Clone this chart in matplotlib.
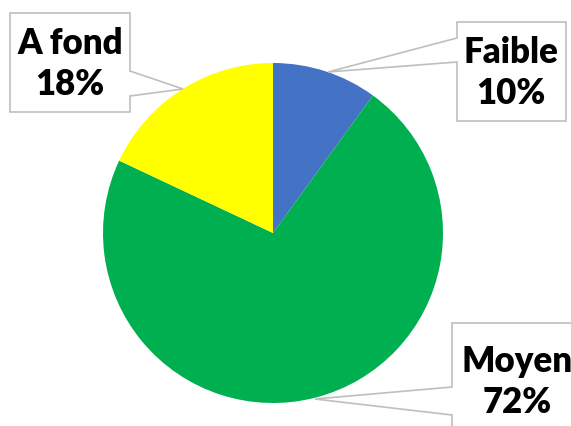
import matplotlib.pyplot as plt
from matplotlib.patches import Polygon

labels = ['Faible', 'Moyen', 'A fond']
values = [10, 72, 18]
colors = ['#4472C4', '#00B050', '#FFFF00']

W, H = 571, 426
fig = plt.figure(figsize=(W / 100, H / 100), dpi=100)
ax = fig.add_axes([0, 0, 1, 1])
ax.set_xlim(0, W)
ax.set_ylim(0, H)
ax.set_aspect('equal')
ax.axis('off')

# pie centre / radius in pixel space (y measured from bottom)
ax.pie(values, colors=colors, startangle=90, counterclock=False,
       center=(273, H - 233), radius=170, wedgeprops=dict(linewidth=0))
ax.set_xlim(0, W)
ax.set_ylim(0, H)


def callout(pts, text, tx, ty):
    pts = [(x, H - y) for x, y in pts]
    ax.add_patch(Polygon(pts, closed=True, facecolor='white',
                         edgecolor='#BFBFBF', linewidth=1.2, zorder=3))
    ax.text(tx, H - ty, text, ha='center', va='center', fontsize=25,
            fontweight='heavy', family=['Lato', 'DejaVu Sans'],
            linespacing=1.32, zorder=4)


pct = [f'{v}%' for v in values]

callout([(10, 13), (130, 13), (130, 71), (183, 89), (130, 96), (130, 112), (10, 112)],
        f'{labels[2]}\n{pct[2]}', 70, 64)
callout([(457, 22), (566, 22), (566, 121), (457, 121), (457, 62), (328, 72), (457, 38)],
        f'{labels[0]}\n{pct[0]}', 511, 73)
callout([(452, 323), (585, 323), (585, 445), (452, 445), (452, 415), (315, 399), (452, 387)],
        f'{labels[1]}\n{pct[1]}', 517, 382)

fig.savefig('out.png', dpi=100)
